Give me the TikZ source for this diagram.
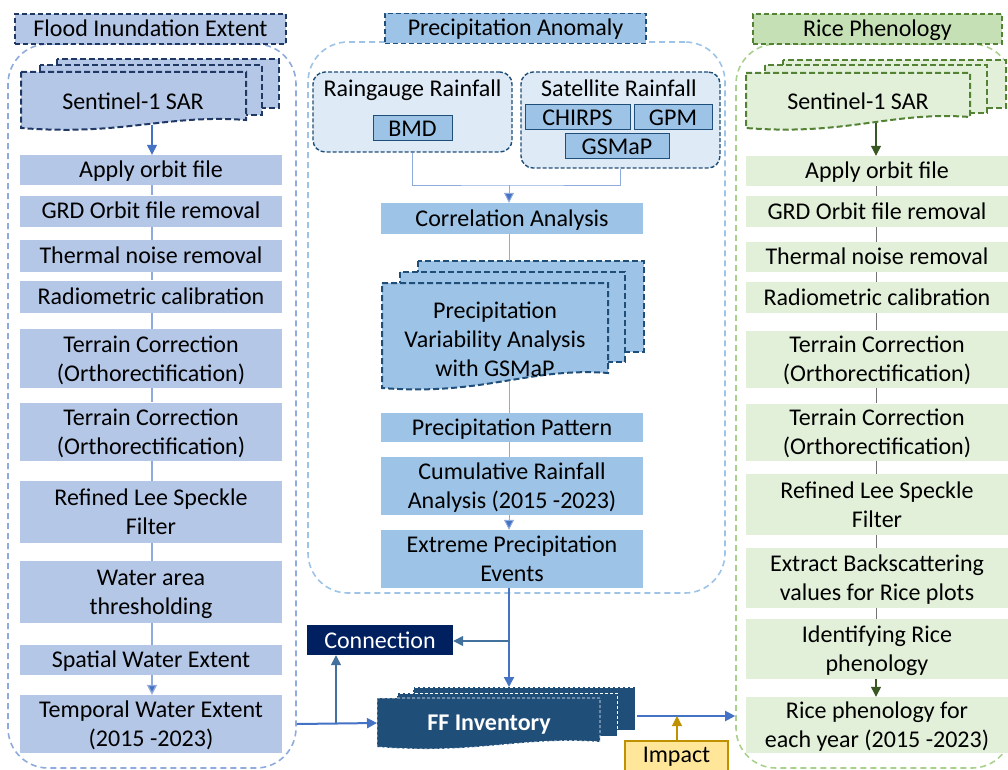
\documentclass[tikz,border=0pt]{standalone}
\usepackage{fontspec}
\setmainfont{Carlito}
\usetikzlibrary{arrows.meta,calc}
\definecolor{lfill}{HTML}{B4C7E7}
\definecolor{ldark}{HTML}{203864}
\definecolor{louter}{HTML}{8FAADC}
\definecolor{mfill}{HTML}{9DC3E6}
\definecolor{mdark}{HTML}{1F4E79}
\definecolor{mlight}{HTML}{DEEBF7}
\definecolor{rfill}{HTML}{E2F0D9}
\definecolor{rtitle}{HTML}{C5E0B4}
\definecolor{rdark}{HTML}{548235}
\definecolor{router}{HTML}{A9D18E}
\definecolor{rarrow}{HTML}{385723}
\definecolor{arrblue}{HTML}{4472C4}
\definecolor{thinline}{HTML}{8FAADC}
\definecolor{steel}{HTML}{41719C}
\definecolor{connfill}{HTML}{002060}
\definecolor{ffill}{HTML}{1F4E79}
\definecolor{impfill}{HTML}{FFE699}
\definecolor{impdraw}{HTML}{BF9000}
\newcommand\docshape[6]{% style, l, t, r, br, bl
  \path[#1] (#2,#3) -- (#4,#3) -- (#4,#5)
    .. controls ({#4-0.35*(#4-#2)},{#5-6}) and ({#2+0.45*(#4-#2)},{#6+8}) .. (#2,#6) -- cycle;}
\begin{document}
\begin{tikzpicture}[x=1pt,y=-1pt,
  font=\fontsize{24}{29}\selectfont,
  box/.style={inner sep=0pt, align=center, minimum width=262pt, text depth=0pt},
  one/.style={text height=15pt},
  lbox/.style={box, fill=lfill},
  mbox/.style={box, fill=mfill},
  rbox/.style={box, fill=rfill},
  panel/.style={inner sep=0pt, dashed, dash pattern=on 6pt off 4pt, line width=1.6pt, rounded corners=40pt},
  ttl/.style={inner sep=0pt, dashed, dash pattern=on 5pt off 3pt, line width=1.8pt, text height=15pt, text depth=0pt},
  ldoc/.style={fill=lfill, draw=ldark, line width=2pt, dash pattern=on 6pt off 3pt},
  mdoc/.style={fill=mfill, draw=mdark, line width=2pt, dash pattern=on 6pt off 3pt},
  rdoc/.style={fill=rfill, draw=rdark, line width=2pt, dash pattern=on 6pt off 3pt},
  fdoc/.style={fill=ffill, draw=white, line width=0.8pt, dash pattern=on 3pt off 2pt},
  sbox/.style={inner sep=0pt, fill=mfill, draw=mdark, line width=1pt},
  thin/.style={draw=thinline, line width=1.3pt},
  arr/.style={-{Triangle[length=10pt,width=10pt]}},
  rthin/.style={draw=black!55, line width=0.9pt}
]
\useasboundingbox (0,0) rectangle (1008,770);
\clip (0,0) rectangle (1008,770);

% ---------- outer panels ----------
\node[panel, draw=louter, minimum width=288pt, minimum height=724pt] (lp) at (152,406) {};
\node[panel, draw=mfill, minimum width=417pt, minimum height=551pt] (mp) at (516.5,317.5) {};
\node[panel, draw=router, minimum width=276pt, minimum height=724pt] (rp) at (874,406) {};

% ---------- titles ----------
\node[ttl, fill=lfill, draw=ldark, minimum width=271pt, minimum height=30pt] (lt) at (150.5,29) {Flood Inundation Extent};
\node[ttl, fill=mfill, draw=mdark, minimum width=261pt, minimum height=30pt] (mt) at (515.5,28.5) {Precipitation Anomaly};
\node[ttl, fill=rtitle, draw=rdark, minimum width=249pt, minimum height=30pt] (rt) at (877.5,29) {Rice Phenology};

% ---------- left column ----------
\path[ldoc] (57,59) rectangle (279,108);
\path[ldoc] (40,65) rectangle (262,115);
\docshape{ldoc}{21}{72}{246}{120}{128}
\node (lsar) at (133,101) {Sentinel-1 SAR};
\coordinate (lsarb) at (152,125);

\node[lbox, one, minimum height=30pt] (a1) at (151,170) {Apply orbit file};
\node[lbox, one, minimum height=31pt] (a2) at (151,211) {GRD Orbit file removal};
\node[lbox, one, minimum height=32pt] (a3) at (151,256) {Thermal noise removal};
\node[lbox, one, minimum height=32pt] (a4) at (151,296.5) {Radiometric calibration};
\node[lbox, minimum height=59pt] (a5) at (151,358.5) {Terrain Correction\\(Orthorectification)};
\node[lbox, minimum height=58pt] (a6) at (151,431.5) {Terrain Correction\\(Orthorectification)};
\node[lbox, minimum height=62pt] (a7) at (151,512) {Refined Lee Speckle\\Filter};
\node[lbox, minimum height=62pt] (a8) at (151,592) {Water area\\thresholding};
\node[lbox, one, minimum height=30pt] (a9) at (151,660) {Spatial Water Extent};
\node[lbox, minimum height=58pt] (a10) at (151,724) {Temporal Water Extent\\(2015 -2023)};

\coordinate (lx) at (152,0);
\draw[arr, draw=arrblue, line width=1.3pt, fill=arrblue] (lsarb) -- (lx |- a1.north);
\foreach \u/\v in {a1/a2,a2/a3,a3/a4,a4/a5,a5/a6,a6/a7,a7/a8,a8/a9}
  \draw[thin] (lx |- \u.south) -- (lx |- \v.north);
\draw[thin, draw=thinline, -{Triangle[length=10pt,width=10pt,fill=arrblue]}] (lx |- a9.south) -- (lx |- a10.north);

% ---------- middle column ----------
\node[inner sep=0pt, fill=mlight, draw=mdark, line width=1.4pt, dash pattern=on 4pt off 2pt, rounded corners=12pt, minimum width=199pt, minimum height=80pt] (rg) at (412.5,112) {};
\node (rgt) at (412.5,90) {Raingauge Rainfall};
\node[sbox, minimum width=79pt, minimum height=25pt] (bmd) at (412.5,128.5) {BMD};
\node[inner sep=0pt, fill=mlight, draw=mdark, line width=1.4pt, dash pattern=on 4pt off 2pt, rounded corners=12pt, minimum width=199pt, minimum height=96pt] (sat) at (620.5,120) {};
\node (satt) at (619,88) {Satellite Rainfall};
\node[sbox, minimum width=105pt, minimum height=25pt] (chirps) at (577.5,117.5) {CHIRPS};
\node[sbox, minimum width=78pt, minimum height=25pt] (gpm) at (673,117.5) {GPM};
\node[sbox, minimum width=104pt, minimum height=25pt] (gsmap) at (617,146.5) {GSMaP};

\node[mbox, one, minimum height=31pt] (corr) at (512,218.5) {Correlation Analysis};

\path[mdoc] (418,261) rectangle (644,352);
\path[mdoc] (400,272) rectangle (625,362);
\docshape{mdoc}{382}{283}{608}{373}{388}
\node[align=center] (pva) at (495,339) {Precipitation\\Variability Analysis\\with GSMaP};
\coordinate (pvat) at (509,261);
\coordinate (pvab) at (509,381);

\node[mbox, one, minimum height=29pt] (pat) at (512,427.5) {Precipitation Pattern};
\node[mbox, minimum height=58pt] (cum) at (512,486) {Cumulative Rainfall\\Analysis (2015 -2023)};
\node[mbox, minimum height=58pt] (ext) at (512,559) {Extreme Precipitation\\Events};

\coordinate (mx) at (509,0);
\coordinate (jn) at (509,185);
\draw[thin, line width=1pt] (bmd.south |- rg.south) |- (jn) -| (sat.south);
\draw[line width=1pt, draw=thinline, -{Triangle[length=10pt,width=10pt,fill=arrblue]}] (jn) -- (mx |- corr.north);
\draw[thin, line width=1pt] (mx |- corr.south) -- (pvat);
\draw[thin, line width=1pt] (pvab) -- (mx |- pat.north);
\draw[thin, line width=1pt] (mx |- pat.south) -- (mx |- cum.north);
\draw[line width=1pt, draw=thinline, -{Triangle[length=10pt,width=10pt,fill=arrblue]}] (mx |- cum.south) -- (mx |- ext.north);

% ---------- bottom centre ----------
\node[inner sep=0pt, fill=connfill, text=white, minimum width=146pt, minimum height=30pt] (conn) at (380,640) {Connection};
\path[fdoc] (413,687) rectangle (635,730);
\path[fdoc] (397,693) rectangle (617,736);
\docshape{fdoc}{377}{698}{600}{742}{747}
\node[text=white, font=\fontsize{24}{29}\selectfont\bfseries] (ff) at (489,725) {FF Inventory};
\coordinate (fft) at (509,687);
\coordinate (ffl) at (377,723);
\coordinate (ffr) at (637,716);
\node[inner sep=0pt, fill=impfill, draw=impdraw, line width=1.2pt, minimum width=103pt, minimum height=31pt] (imp) at (676.5,756.5) {Impact};

\draw[arr, draw=arrblue, line width=2pt] (mx |- ext.south) -- (fft);
\coordinate (br1) at (509,641);
\draw[arr, draw=steel, line width=1.3pt] (br1) -- (conn.east |- br1);
\coordinate (lpe) at (lp.east |- a10);
\draw[arr, draw=arrblue, line width=2pt] (lpe) -- (ffl);
\coordinate (br2) at (336,723);
\draw[arr, draw=steel, line width=1.3pt] (br2) -- (br2 |- conn.south);
\coordinate (rpw) at (rp.west |- ffr);
\draw[arr, draw=arrblue, line width=2pt] (ffr) -- (rpw);
\coordinate (imt) at (677,716);
\draw[arr, draw=impdraw, line width=1.2pt] (imt |- imp.north) -- (imt);

% ---------- right column ----------
\path[rdoc] (783,60) rectangle (1006,108);
\path[rdoc] (765,65) rectangle (987,113);
\docshape{rdoc}{746}{73}{970}{117}{128}
\node (rsar) at (858,101) {Sentinel-1 SAR};
\coordinate (rsarb) at (876,123);

\node[rbox, one, minimum height=30pt] (b1) at (877,171) {Apply orbit file};
\node[rbox, one, minimum height=31pt] (b2) at (877,211.5) {GRD Orbit file removal};
\node[rbox, one, minimum height=30pt] (b3) at (877,257) {Thermal noise removal};
\node[rbox, one, minimum height=31pt] (b4) at (877,297.5) {Radiometric calibration};
\node[rbox, minimum height=57pt] (b5) at (877,359) {Terrain Correction\\(Orthorectification)};
\node[rbox, minimum height=57pt] (b6) at (877,432) {Terrain Correction\\(Orthorectification)};
\node[rbox, minimum height=61pt] (b7) at (877,504.5) {Refined Lee Speckle\\Filter};
\node[rbox, minimum height=60pt] (b8) at (877,578) {Extract Backscattering\\values for Rice plots};
\node[rbox, minimum height=60pt] (b9) at (877,649) {Identifying Rice\\phenology};
\node[rbox, minimum height=56pt] (b10) at (877,725) {Rice phenology for\\each year (2015 -2023)};

\coordinate (rx) at (876,0);
\draw[arr, draw=rarrow, line width=1.2pt] (rsarb) -- (rx |- b1.north);
\foreach \u/\v in {b1/b2,b2/b3,b3/b4,b4/b5,b5/b6,b6/b7,b7/b8,b8/b9}
  \draw[rthin] (rx |- \u.south) -- (rx |- \v.north);
\draw[arr, draw=rarrow, line width=1.2pt] (rx |- b9.south) -- (rx |- b10.north);
\end{tikzpicture}
\end{document}
